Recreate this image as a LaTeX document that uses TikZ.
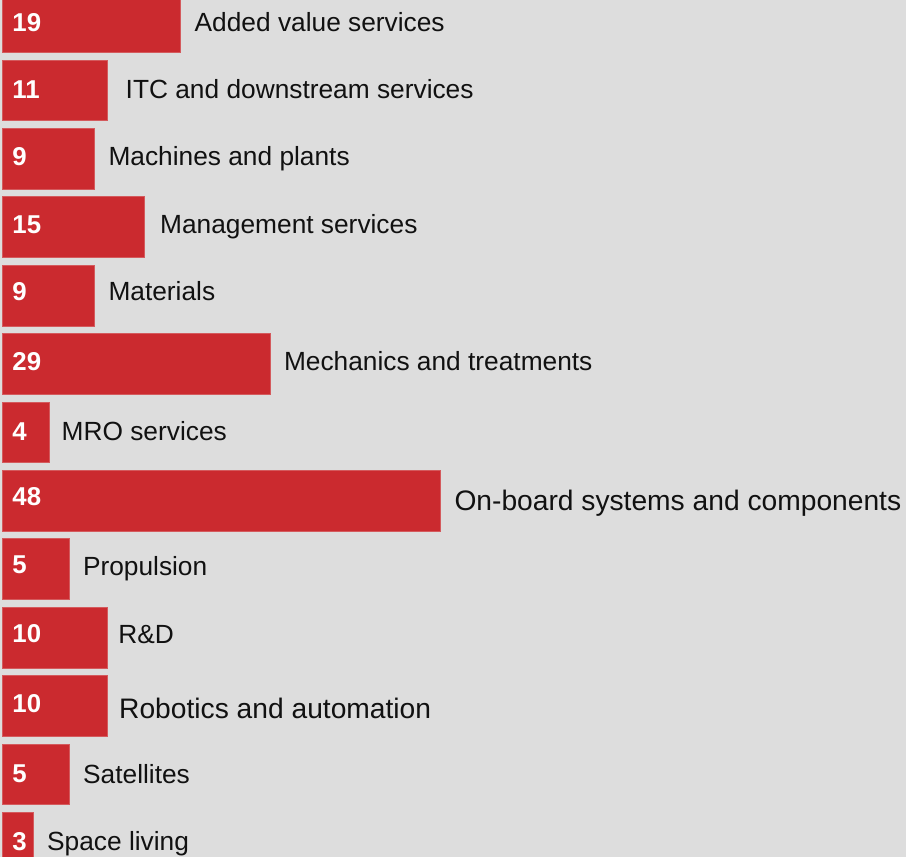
\documentclass[tikz,border=0pt]{standalone}
\usepackage{fontspec}
\setmainfont{Liberation Sans}
\definecolor{bg}{HTML}{DDDDDD}
\definecolor{barred}{HTML}{CB2A2F}
\definecolor{baredge}{HTML}{D45A5D}
\definecolor{txt}{HTML}{111111}
\tikzset{
  barbox/.style={fill=barred, draw=baredge, line width=0.8pt},
  numlab/.style={anchor=base west, inner sep=0pt, text=white, font=\fontsize{25.8}{30}\selectfont\bfseries},
  catlab/.style={anchor=base west, inner sep=0pt, text=txt, font=\fontsize{26.3}{30}\selectfont},
  biglab/.style={catlab, font=\fontsize{28.2}{32}\selectfont},
}
\begin{document}
\begin{tikzpicture}[x=1pt,y=-1pt]
\useasboundingbox (0,0) rectangle (906,857);
\clip (0,0) rectangle (906,857);
\fill[bg] (0,0) rectangle (906,857);
% bars: top = 60 + (i-2)*68.4, height 60.7
\foreach \i/\r in {1/180.3,2/107.3,3/94,4/144.3,5/94,6/270.7,7/49.7,8/440.7,9/69.3,10/107.3,11/107.3,12/69.3,13/33.3}{
  \pgfmathsetmacro{\top}{60+(\i-2)*68.4}
  \pgfmathsetmacro{\bot}{\top+60.7}
  \path[barbox] (2.3,\top) rectangle (\r,\bot);
}
% value labels
\node[numlab] (n1) at (12.3,31) {19};
\node[numlab] (n2) at (12.3,98.3) {11};
\node[numlab] (n3) at (12.3,165.5) {9};
\node[numlab] (n4) at (12.3,233.3) {15};
\node[numlab] (n5) at (12.3,300.3) {9};
\node[numlab] (n6) at (12.3,370) {29};
\node[numlab] (n7) at (12.3,440) {4};
\node[numlab] (n8) at (12.3,505) {48};
\node[numlab] (n9) at (12.3,573.3) {5};
\node[numlab] (n10) at (12.3,642.7) {10};
\node[numlab] (n11) at (12.3,712.7) {10};
\node[numlab] (n12) at (12.3,782) {5};
\node[numlab] (n13) at (12.3,850) {3};
% category labels
\node[catlab] (c1) at (194.5,31.5) {Added value services};
\node[catlab] (c2) at (125.5,98.3) {ITC and downstream services};
\node[catlab] (c3) at (108.3,165.7) {Machines and plants};
\node[catlab] (c4) at (160,233.3) {Management services};
\node[catlab] (c5) at (108.3,300.7) {Materials};
\node[catlab] (c6) at (283.8,370) {Mechanics and treatments};
\node[catlab] (c7) at (61.5,440) {MRO services};
\node[biglab] (c8) at (454.3,510) {On-board systems and components};
\node[catlab] (c9) at (82.8,575) {Propulsion};
\node[catlab] (c10) at (118.2,643.3) {R\&D};
\node[biglab] (c11) at (119,718.3) {Robotics and automation};
\node[catlab] (c12) at (83,783.3) {Satellites};
\node[catlab] (c13) at (47,850) {Space living};
\end{tikzpicture}
\end{document}
